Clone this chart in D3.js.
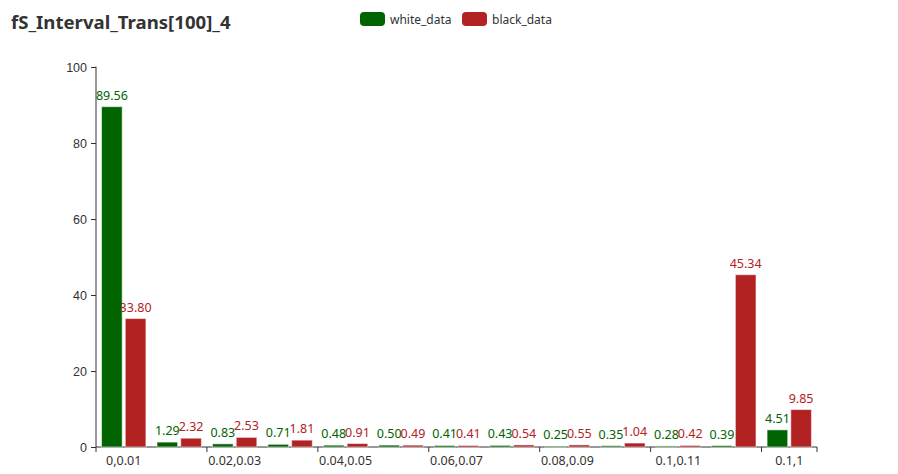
<!DOCTYPE html>
<html><head><meta charset="utf-8">
<script src="https://cdn.jsdelivr.net/npm/d3@7"></script>
<style>body{margin:0;background:#fff}svg{display:block;font-family:"Noto Sans","DejaVu Sans",sans-serif}</style>
</head><body><svg id="c" width="898" height="474"></svg>
<script>
const categories = ["0,0.01","0.01,0.02","0.02,0.03","0.03,0.04","0.04,0.05","0.05,0.06","0.06,0.07","0.07,0.08","0.08,0.09","0.09,0.1","0.1,0.11","0.11,0.12","0.1,1"];
const whiteData = [89.56,1.29,0.83,0.71,0.48,0.50,0.41,0.43,0.25,0.35,0.28,0.39,4.51];
const blackData = [33.80,2.32,2.53,1.81,0.91,0.49,0.41,0.54,0.55,1.04,0.42,45.34,9.85];
const seriesNames = ["white_data","black_data"];
const colors = ["#006400","#B22222"];
const yTicks = [0,20,40,60,80,100];
const titleText = "fS_Interval_Trans[100]_4";

const svg = d3.select("#c");
const L=96,R=817,T=67,B=447;
const x = d3.scaleBand().domain(categories).range([L,R]).paddingInner(0).paddingOuter(0);
const y = d3.scaleLinear().domain([0,100]).range([B,T]);
const bw = x.bandwidth();
const inner = d3.scaleBand().domain(seriesNames).range([bw*0.1,bw*0.9]).paddingInner(0.3/2.3);

// title
svg.append("text").attr("x",11).attr("y",29).text(titleText)
  .attr("font-size",18.6).attr("font-weight","bold").attr("fill","#333");

// legend
const lg = [{x:360},{x:462}];
seriesNames.forEach((n,i)=>{
  const g = svg.append("g").attr("transform",`translate(${lg[i].x},12)`);
  g.append("rect").attr("width",25).attr("height",14).attr("rx",4).attr("fill",colors[i]);
  g.append("text").attr("x",30).attr("y",11.5).text(n).attr("font-size",12).attr("fill","#333");
});

// y axis
const ya = svg.append("g").attr("transform",`translate(${L},0)`)
  .call(d3.axisLeft(y).tickValues(yTicks).tickSize(5).tickPadding(4));
ya.selectAll("text").attr("font-size",12.5).attr("fill","#333").attr("font-family",null);
ya.selectAll("line,path").attr("stroke","#333");
ya.select("path").attr("d",`M0,${B}V${T-0.5}`);

// x axis
const xg = svg.append("g").attr("transform",`translate(0,${B})`);
xg.append("line").attr("x1",L).attr("x2",R).attr("stroke","#333");
const tickIdx = d3.range(0,categories.length+1).filter(i=>i%2===0||i===categories.length);
xg.selectAll("line.t").data(tickIdx).join("line").attr("class","t")
  .attr("x1",i=>L+i*bw).attr("x2",i=>L+i*bw).attr("y1",0).attr("y2",5).attr("stroke","#333");
xg.selectAll("text").data(categories.filter((c,i)=>i%2===0)).join("text")
  .attr("x",c=>x(c)+bw/2).attr("y",18).attr("text-anchor","middle")
  .attr("font-size",12.5).attr("fill","#333").text(c=>c);

// bars
const all = [whiteData,blackData];
all.forEach((arr,si)=>{
  const g = svg.append("g");
  g.selectAll("rect").data(arr).join("rect")
    .attr("x",(d,i)=>x(categories[i])+inner(seriesNames[si]))
    .attr("y",d=>y(d)).attr("width",inner.bandwidth()).attr("height",d=>B-y(d))
    .attr("fill",colors[si]).attr("stroke","rgba(255,255,255,0.55)").attr("stroke-width",1);
  g.selectAll("text").data(arr).join("text")
    .attr("x",(d,i)=>x(categories[i])+inner(seriesNames[si])+inner.bandwidth()/2)
    .attr("y",d=>y(d)-7).attr("text-anchor","middle").attr("font-size",12.5)
    .attr("fill",colors[si]).text(d=>d.toFixed(2));
});
</script></body></html>
